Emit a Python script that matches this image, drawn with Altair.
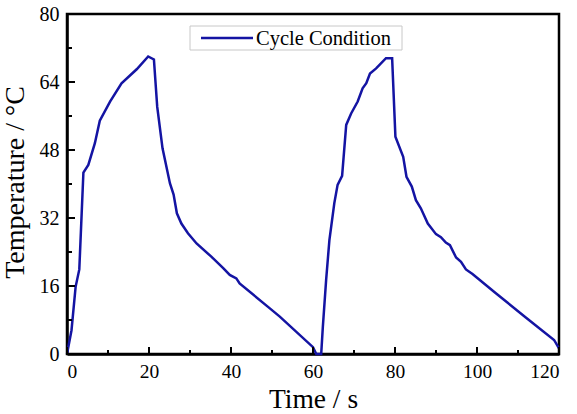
import altair as alt
import pandas as pd

time_s = [0, 1.1, 2.1, 3.0, 4.0, 5.2, 6.8, 8.0, 10.5, 13.3, 17.0, 19.8, 21.2, 22.0, 23.3,
          25.1, 26.0, 26.8, 27.9, 29.5, 31.6, 35.2, 38.1, 39.7, 41.3, 42.1, 49.4, 51.9, 60.0, 60.8,
          62.0, 62.4, 63.2, 64.0, 65.2, 66.0, 67.1, 68.1, 69.3, 70.9, 72.1, 73.0, 73.9, 75.4, 77.8,
          79.3, 80.1, 82.0, 82.8, 84.1, 85.1, 86.3, 88.0, 90.0, 91.2, 92.4, 93.4, 94.9, 96.1, 97.3,
          98.9, 104.6, 111.9, 118.8, 120]
temp_c = [0, 5.6, 15.8, 19.9, 42.7, 44.5, 49.6, 54.9, 59.4, 63.7, 67.0, 70.0, 69.3, 58.2, 48.4,
          40.2, 37.5, 33.1, 30.7, 28.4, 26.0, 22.9, 20.2, 18.6, 17.8, 16.6, 10.8, 8.8, 1.6, 0,
          0, 6.4, 17.4, 26.8, 35.5, 39.8, 41.9, 53.9, 56.6, 59.4, 62.5, 63.7, 66.0, 67.2, 69.6,
          69.6, 51.1, 46.4, 41.7, 39.4, 36.2, 34.3, 30.7, 28.2, 27.5, 26.2, 25.6, 22.7, 21.7, 19.9,
          18.8, 14.3, 8.6, 3.3, 1.3]
series_name = ["Cycle Condition"]

x_major = [0, 20, 40, 60, 80, 100, 120]
x_minor = [10, 30, 50, 70, 90, 110]
y_major = [0, 16, 32, 48, 64, 80]
y_minor = [8, 24, 40, 56, 72]

FONT = "Liberation Serif"
COLOR = "#1414a3"
W, H = 492, 340

df = pd.DataFrame({"t": time_s, "T": temp_c})

xscale = alt.Scale(domain=[0, 120], nice=False, zero=False)
yscale = alt.Scale(domain=[0, 80], nice=False, zero=False)

line = alt.Chart(df).mark_line(strokeWidth=2.5, color=COLOR).encode(
    x=alt.X("t:Q", scale=xscale, title="Time / s",
            axis=alt.Axis(values=x_major, ticks=False, grid=False, labelPadding=8,
                          labelFontSize=19.5,
                          titleBaseline="alphabetic", titleY=53, titleFontSize=27.5)),
    y=alt.Y("T:Q", scale=yscale, title="Temperature / °C",
            axis=alt.Axis(values=y_major, ticks=False, grid=False, labelPadding=8,
                          titleX=-38, titleY=168, titleFontSize=28)),
)

xt_major = alt.Chart(pd.DataFrame({"v": x_major})).mark_rule(color="black", strokeWidth=2).encode(
    x=alt.X("v:Q", scale=xscale), y=alt.value(H), y2=alt.value(H - 7))
xt_minor = alt.Chart(pd.DataFrame({"v": x_minor})).mark_rule(color="black", strokeWidth=2).encode(
    x=alt.X("v:Q", scale=xscale), y=alt.value(H), y2=alt.value(H - 4))
yt_major = alt.Chart(pd.DataFrame({"v": y_major})).mark_rule(color="black", strokeWidth=2).encode(
    y=alt.Y("v:Q", scale=yscale), x=alt.value(0), x2=alt.value(8))
yt_minor = alt.Chart(pd.DataFrame({"v": y_minor})).mark_rule(color="black", strokeWidth=2).encode(
    y=alt.Y("v:Q", scale=yscale), x=alt.value(0), x2=alt.value(5))

leg_df = pd.DataFrame({"name": series_name})
leg_box = alt.Chart(leg_df).mark_rect(fill="white", stroke="#c8c8c8", strokeWidth=1).encode(
    x=alt.value(123), x2=alt.value(335), y=alt.value(12), y2=alt.value(36))
leg_line = alt.Chart(leg_df).mark_rule(color=COLOR, strokeWidth=2.5).encode(
    x=alt.value(134), x2=alt.value(186), y=alt.value(24))
leg_text = alt.Chart(leg_df).mark_text(font=FONT, fontSize=20.5, align="left", baseline="middle",
                                       color="black").encode(
    x=alt.value(189), y=alt.value(24.5), text="name:N")

chart = alt.layer(line, xt_major, xt_minor, yt_major, yt_minor, leg_box, leg_line, leg_text).properties(
    width=W, height=H, autosize="none",
    padding={"left": 67, "top": 14, "right": 18, "bottom": 60},
    background="white",
).configure_view(stroke="black", strokeWidth=2.5).configure_axis(
    domainColor="black", domainWidth=2.5, labelFont=FONT, labelFontSize=20,
    labelColor="black", titleFont=FONT, titleFontWeight="normal",
    titleColor="black",
)

chart.save("out.html", embed_options={"renderer": "svg", "actions": False})
